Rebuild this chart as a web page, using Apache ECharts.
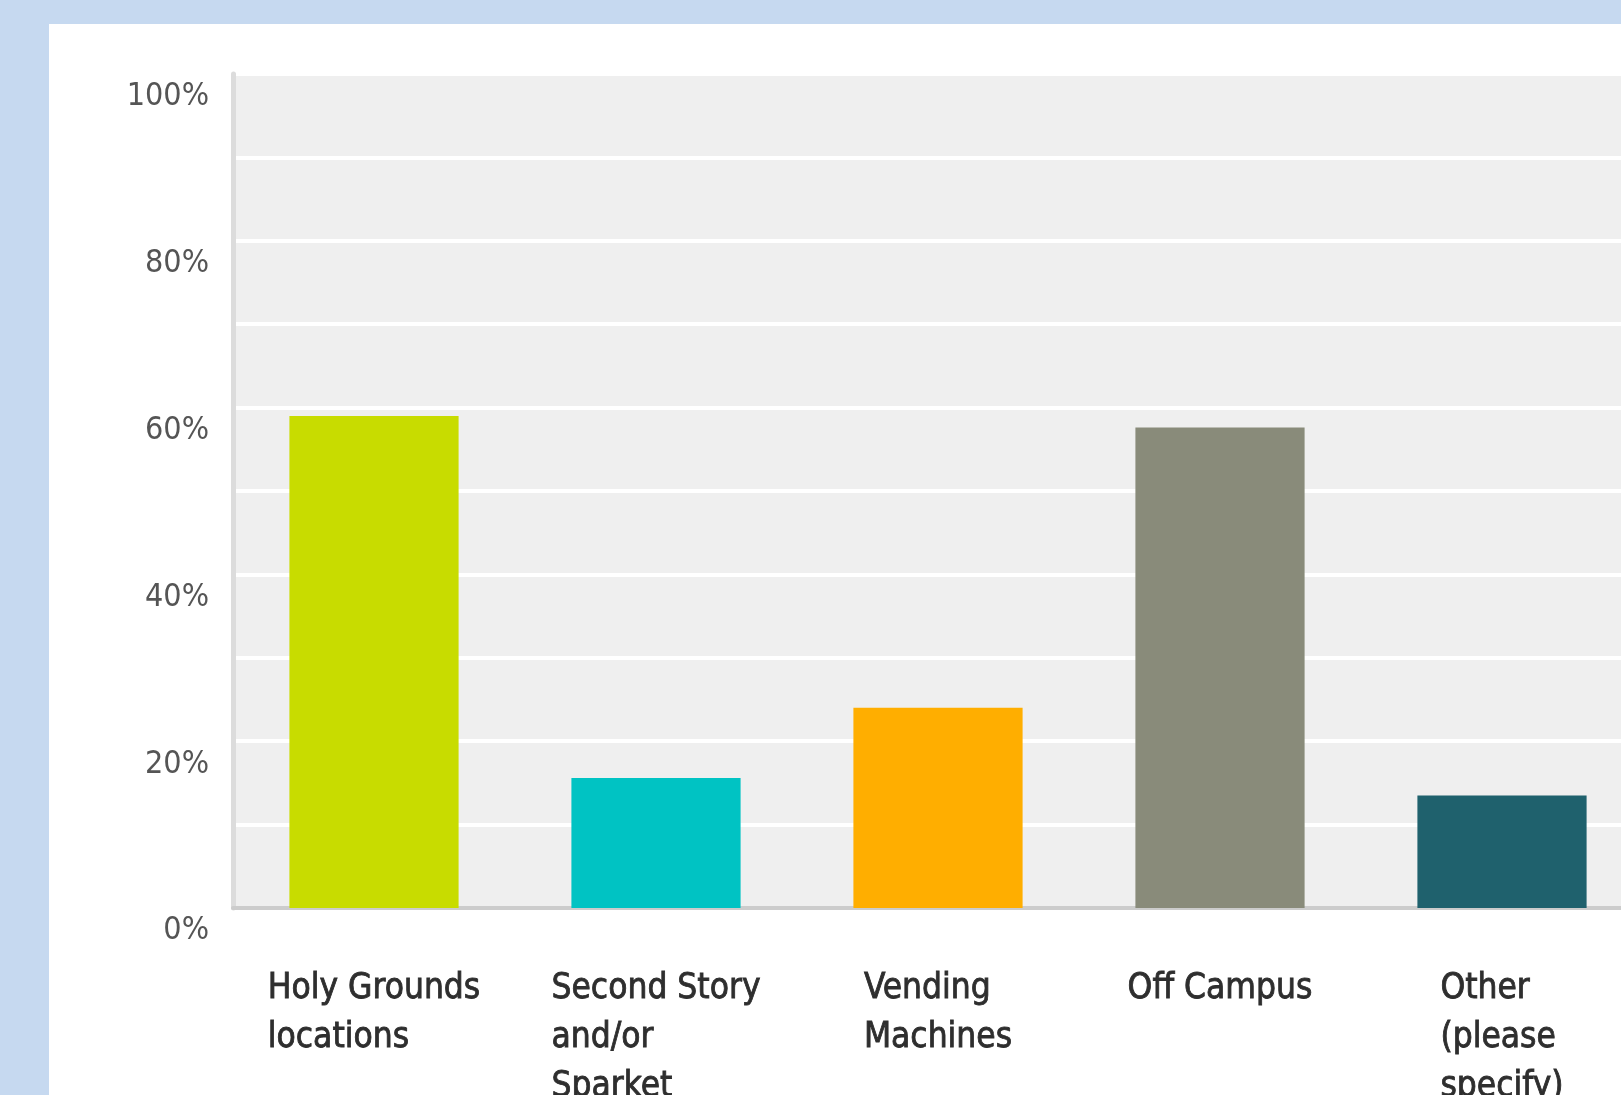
<!DOCTYPE html>
<html>
<head>
<meta charset="utf-8">
<script src="https://cdn.jsdelivr.net/npm/echarts@6/dist/echarts.min.js"></script>
<style>
  html, body { margin:0; padding:0; width:1621px; height:1095px; overflow:hidden; background:#c6d9f0; }
  #panel { position:absolute; left:49px; top:24px; width:1572px; height:1071px; background:#ffffff; overflow:hidden; }
  #chart { width:1660px; height:1071px; }
</style>
</head>
<body>
<div id="panel"><div id="chart"></div></div>
<script>
const categories = [
  "Holy Grounds\nlocations",
  "Second Story\nand/or\nSparket",
  "Vending\nMachines",
  "Off Campus",
  "Other\n(please\nspecify)"
];
const values = [59.0, 15.6, 24.0, 57.6, 13.5];
const barColors = ["#c8dc00", "#00c3c3", "#ffae00", "#898b7a", "#1f616d"];
const yTickLabels = [0, 20, 40, 60, 80, 100];

const FONT = "'DejaVu Sans Condensed', 'DejaVu Sans', sans-serif";

const chart = echarts.init(document.getElementById('chart'), null, { renderer: 'canvas' });
chart.setOption({
  animation: false,
  backgroundColor: '#ffffff',
  grid: {
    left: 184, top: 50, width: 1410, height: 834,
    outerBoundsMode: 'none',
    containLabel: false,
    show: true, backgroundColor: '#efefef', borderWidth: 0
  },
  xAxis: {
    type: 'category',
    data: categories,
    offset: 2,
    axisLine: { show: true, lineStyle: { color: '#cccccc', width: 4 } },
    axisTick: { show: false },
    splitLine: { show: false },
    axisLabel: {
      interval: 0,
      margin: 54,
      fontFamily: FONT,
      fontSize: 35,
      lineHeight: 49,
      color: '#2e2e2e',
      formatter: function (v) {
        return v.split('\n').map(function (s) { return '{a|' + s + '}'; }).join('\n');
      },
      rich: {
        a: {
          align: 'left', fontFamily: FONT, fontSize: 35, lineHeight: 49,
          color: '#2e2e2e', fontWeight: 'normal',
          textBorderColor: '#2e2e2e', textBorderWidth: 0.8
        }
      }
    }
  },
  yAxis: {
    type: 'value',
    min: 0, max: 100, interval: 10,
    axisLine: { show: true, lineStyle: { color: '#dcdcdc', width: 5 } },
    axisTick: { show: false },
    splitLine: { show: true, lineStyle: { color: '#ffffff', width: 4 } },
    axisLabel: {
      margin: 24,
      fontFamily: FONT,
      fontSize: 32,
      lineHeight: 46,
      color: '#555555',
      verticalAlign: 'top',
      formatter: function (v) {
        return yTickLabels.indexOf(v) >= 0 ? v + '%' : '';
      }
    }
  },
  series: [{
    type: 'bar',
    barWidth: '60%',
    data: values.map(function (v, i) { return { value: v, itemStyle: { color: barColors[i] } }; }),
    z: 3
  }]
});
</script>
</body>
</html>
